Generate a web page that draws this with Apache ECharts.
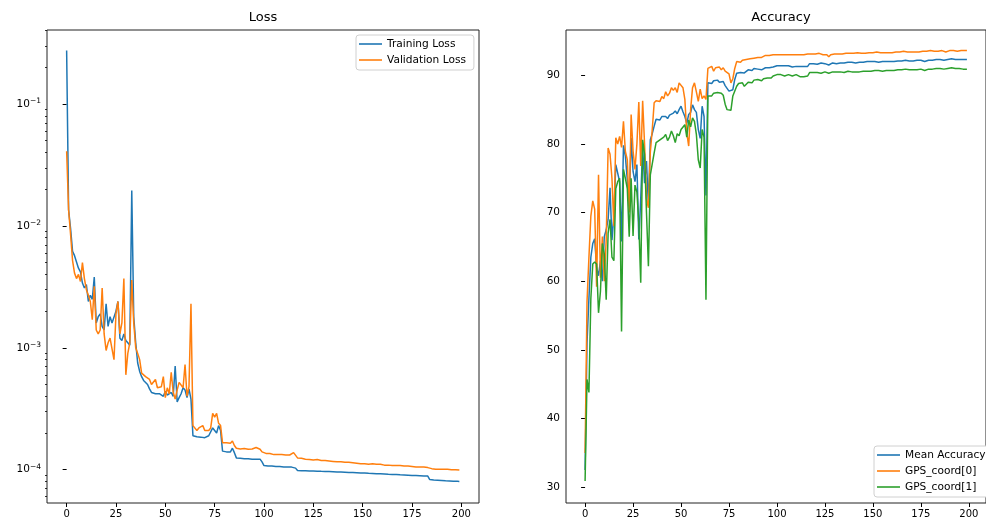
<!DOCTYPE html>
<html>
<head>
<meta charset="utf-8">
<script src="https://cdn.jsdelivr.net/npm/echarts@6/dist/echarts.min.js"></script>
<style>
html, body { margin: 0; padding: 0; background: #fff; }
#chart { width: 986px; height: 520px; }
</style>
</head>
<body>
<div id="chart"></div>
<script>
// values, one entry per epoch (0..199)
var trainLoss = [
  0.275, 0.0135, 0.0095, 0.0062, 0.0057, 0.0056, 0.0045, 0.0042, 0.0034, 0.0031,
  0.0033, 0.0024, 0.0027, 0.0025, 0.0038, 0.0016, 0.0018, 0.0019, 0.0015, 0.0014,
  0.0023, 0.0015, 0.0018, 0.0016, 0.0016, 0.0020, 0.0024, 0.0012, 0.00115, 0.0013,
  0.00115, 0.0011, 0.00105, 0.0195, 0.0018, 0.0011, 0.00075, 0.00064, 0.00058, 0.00054,
  0.00052, 0.00050, 0.00046, 0.00043, 0.00042, 0.00042, 0.00041, 0.00042, 0.00041, 0.00040,
  0.00044, 0.00041, 0.00040, 0.00043, 0.00040, 0.00071, 0.00036, 0.00039, 0.00042, 0.00047,
  0.00045, 0.00039, 0.00046, 0.00038, 0.00019, 0.000185, 0.000186, 0.000184, 0.000185, 0.000188,
  0.000183, 0.000186, 0.00019, 0.00019, 0.00022, 0.00022, 0.00020, 0.00023, 0.00021, 0.000142,
  0.00014, 0.00014, 0.000141, 0.00014, 0.00015, 0.000138, 0.000125, 0.000124, 0.000124, 0.000124,
  0.000123, 0.000123, 0.000123, 0.000123, 0.000122, 0.000122, 0.000122, 0.000123, 0.000122, 0.000116,
  0.000108, 0.000108, 0.000107, 0.000107, 0.000107, 0.000107, 0.000106, 0.000106, 0.000106, 0.000106,
  0.000105, 0.000105, 0.000105, 0.000105, 0.000105, 0.000105, 0.000103, 9.85e-5, 9.82e-5, 9.81e-5,
  9.80e-5, 9.80e-5, 9.78e-5, 9.77e-5, 9.77e-5, 9.75e-5, 9.74e-5, 9.73e-5, 9.72e-5, 9.70e-5,
  9.69e-5, 9.68e-5, 9.66e-5, 9.65e-5, 9.63e-5, 9.62e-5, 9.60e-5, 9.59e-5, 9.57e-5, 9.56e-5,
  9.54e-5, 9.53e-5, 9.51e-5, 9.50e-5, 9.48e-5, 9.47e-5, 9.45e-5, 9.44e-5, 9.42e-5, 9.41e-5,
  9.39e-5, 9.38e-5, 9.36e-5, 9.34e-5, 9.33e-5, 9.31e-5, 9.30e-5, 9.28e-5, 9.26e-5, 9.25e-5,
  9.23e-5, 9.22e-5, 9.20e-5, 9.18e-5, 9.17e-5, 9.15e-5, 9.13e-5, 9.12e-5, 9.10e-5, 9.08e-5,
  9.07e-5, 9.05e-5, 9.03e-5, 9.02e-5, 9.00e-5, 8.98e-5, 8.97e-5, 8.95e-5, 8.93e-5, 8.92e-5,
  8.90e-5, 8.89e-5, 8.87e-5, 8.86e-5, 8.30e-5, 8.25e-5, 8.22e-5, 8.20e-5, 8.18e-5, 8.16e-5,
  8.14e-5, 8.12e-5, 8.10e-5, 8.09e-5, 8.08e-5, 8.06e-5, 8.05e-5, 8.04e-5, 8.02e-5, 8.00e-5
];
var valLoss = [
  0.041, 0.0135, 0.0085, 0.0052, 0.0041, 0.0037, 0.0040, 0.0035, 0.0050, 0.0037,
  0.0030, 0.0027, 0.0024, 0.0017, 0.0032, 0.0014, 0.0013, 0.0014, 0.0031, 0.0013,
  0.00095, 0.0011, 0.0012, 0.0012, 0.0008, 0.0019, 0.0024, 0.0013, 0.0016, 0.0037,
  0.0006, 0.0009, 0.0011, 0.0036, 0.0016, 0.0010, 0.0009, 0.00080, 0.00062, 0.00060,
  0.00058, 0.00056, 0.00055, 0.00050, 0.00050, 0.00055, 0.00047, 0.00046, 0.00048, 0.00058,
  0.00039, 0.00047, 0.00042, 0.00063, 0.00043, 0.00038, 0.00045, 0.00052, 0.00052, 0.00047,
  0.00073, 0.00040, 0.00048, 0.0023, 0.00023, 0.00023, 0.00021, 0.00022, 0.00022, 0.00023,
  0.00021, 0.00021, 0.00021, 0.00022, 0.00029, 0.00027, 0.00029, 0.00024, 0.00023, 0.000166,
  0.000168, 0.000166, 0.000167, 0.000165, 0.000172, 0.000158, 0.000150, 0.000149, 0.000148, 0.000148,
  0.000149, 0.000147, 0.000147, 0.000146, 0.000148, 0.000150, 0.000152, 0.000151, 0.000147, 0.000140,
  0.000137, 0.000136, 0.000135, 0.000136, 0.000134, 0.000133, 0.000134, 0.000133, 0.000132, 0.000133,
  0.000134, 0.000132, 0.000131, 0.000132, 0.000134, 0.000138, 0.000133, 0.000125, 0.000124, 0.000124,
  0.000123, 0.000122, 0.000122, 0.000121, 0.000120, 0.000120, 0.000119, 0.000121, 0.000119, 0.000119,
  0.000121, 0.000119, 0.000118, 0.000118, 0.000117, 0.000117, 0.000116, 0.000116, 0.000115, 0.000116,
  0.000115, 0.000115, 0.000114, 0.000115, 0.000116, 0.000114, 0.000113, 0.000113, 0.000113, 0.000112,
  0.000113, 0.000112, 0.000112, 0.000111, 0.000112, 0.000112, 0.000111, 0.000111, 0.000110, 0.000111,
  0.000110, 0.000109, 0.000110, 0.000109, 0.000109, 0.000108, 0.000109, 0.000108, 0.000107, 0.000108,
  0.000107, 0.000107, 0.000106, 0.000107, 0.000109, 0.000106, 0.000106, 0.000105, 0.000106, 0.000105,
  0.000104, 0.000105, 0.000105, 0.000104, 0.000103, 0.000102, 0.000102, 0.000101, 0.000102, 0.000101,
  0.000101, 0.000101, 0.000100, 0.000101, 0.000100, 0.000100, 0.000100, 0.000100, 0.0000995, 0.0000995
];
var meanAcc = [
  32.5, 51.0, 57.5, 63.5, 65.5, 66.2, 62.0, 60.8, 63.0, 60.0,
  66.5, 67.5, 69.0, 73.6, 66.0, 69.5, 77.0, 77.2, 74.5, 65.8,
  79.8, 78.2, 74.8, 70.9, 80.9, 76.0, 74.5, 77.0, 66.1, 72.0,
  79.5, 74.3, 77.5, 71.0, 80.6, 81.5, 82.6, 83.6, 83.4, 83.5,
  84.0, 83.8, 84.0, 83.7, 84.2, 84.0, 84.5, 84.8, 84.4, 85.0,
  85.5, 84.7, 84.0, 83.0, 84.3, 84.6, 85.7, 85.0, 84.6, 82.1,
  80.8, 85.5, 84.0, 72.5, 88.9, 89.1, 88.8, 89.2, 89.0, 89.3,
  89.0, 89.2, 89.1, 88.5, 88.1, 87.7, 87.6, 87.9, 89.4, 90.3,
  90.5, 90.4, 90.6, 90.35, 90.5, 90.8, 90.9, 90.7, 91.0, 90.9,
  90.9, 91.0, 90.8, 91.0, 91.1, 91.0, 91.1, 91.0, 91.2, 91.3,
  91.4, 91.3, 91.4, 91.3, 91.4, 91.3, 91.4, 91.3, 91.2, 91.4,
  91.3, 91.4, 91.3, 91.2, 91.3, 91.2, 91.3, 91.7, 91.6, 91.7,
  91.7, 91.6, 91.7, 91.8, 91.7, 91.7, 91.8, 91.5, 91.7, 91.8,
  91.8, 91.7, 91.8, 91.8, 91.9, 91.8, 91.8, 91.9, 91.8, 91.9,
  91.9, 91.8, 91.9, 91.9, 92.0, 91.9, 91.9, 92.0, 91.9, 92.0,
  91.9, 92.0, 92.0, 91.9, 92.0, 92.0, 92.1, 92.0, 91.8, 92.0,
  92.1, 92.0, 92.1, 92.1, 92.0, 92.1, 92.1, 92.2, 92.1, 92.1,
  92.2, 92.1, 92.2, 92.2, 92.1, 92.2, 92.2, 92.0, 92.2, 92.2,
  92.3, 92.2, 92.2, 92.3, 92.2, 92.3, 92.3, 92.2, 92.3, 92.3,
  92.3, 92.4, 92.3, 92.3, 92.4, 92.3, 92.3, 92.3, 92.3, 92.3
];
var gps0Acc = [
  35.0, 57.0, 63.5, 69.5, 71.7, 70.5, 59.2, 75.5, 60.5, 66.5,
  60.0, 66.0, 79.4, 78.5, 75.0, 68.0, 80.9, 80.0, 81.1, 79.5,
  83.3, 78.9, 77.7, 70.0, 84.3, 79.0, 76.3, 80.0, 86.1, 76.8,
  86.3, 80.0, 72.0, 70.7, 78.8, 82.1, 86.0, 86.3, 86.5, 86.2,
  86.9, 86.6, 87.6, 87.0, 87.4, 88.2, 87.8, 88.2, 87.5, 88.9,
  88.9, 88.2, 86.5, 81.6, 79.7, 85.0, 88.2, 88.9, 87.6, 86.2,
  88.0, 86.6, 87.0, 86.5, 91.0, 90.8, 91.3, 90.6, 91.1, 90.9,
  91.2, 90.8, 91.1, 90.6, 90.8, 90.2, 88.9, 89.5, 91.0, 92.0,
  92.1, 91.9, 92.2, 92.0, 92.3, 92.5, 92.4, 92.6, 92.5, 92.7,
  92.6, 92.7, 92.6, 92.8, 92.9, 92.8, 92.9, 92.8, 93.0, 92.9,
  93.0, 92.9, 93.0, 92.9, 93.0, 93.1, 93.0, 92.9, 93.0, 93.1,
  93.0, 92.9, 93.0, 93.1, 93.0, 93.0, 93.1, 93.0, 93.1, 93.0,
  93.1, 93.1, 93.2, 93.1, 93.0, 93.1, 93.0, 92.7, 93.0, 93.1,
  93.1, 93.2, 93.1, 93.2, 93.1, 93.2, 93.2, 93.1, 93.2, 93.3,
  93.2, 93.2, 93.3, 93.2, 93.2, 93.3, 93.2, 93.3, 93.3, 93.2,
  93.3, 93.3, 93.4, 93.3, 93.3, 93.4, 93.3, 93.1, 93.3, 93.4,
  93.3, 93.4, 93.4, 93.3, 93.4, 93.4, 93.5, 93.4, 93.4, 93.3,
  93.4, 93.5, 93.4, 93.5, 93.4, 93.5, 93.5, 93.3, 93.5, 93.5,
  93.6, 93.5, 93.5, 93.6, 93.5, 93.6, 93.6, 93.5, 93.4, 93.6,
  93.6, 93.5, 93.6, 93.6, 93.5, 93.6, 93.6, 93.5, 93.6, 93.6
];
var gps1Acc = [
  30.9, 45.7, 43.8, 57.5, 62.5, 62.8, 62.5, 55.4, 58.5, 65.5,
  64.0, 57.3, 67.0, 69.0, 63.5, 63.0, 73.5, 74.5, 75.0, 52.7,
  76.3, 75.0, 73.5, 66.5, 75.0, 66.6, 74.0, 73.0, 68.5, 59.8,
  80.6, 78.5, 70.0, 62.2, 75.5, 75.3, 78.7, 80.2, 80.0, 80.6,
  80.6, 81.0, 81.4, 80.5, 81.0, 81.9, 81.2, 80.2, 81.5, 81.2,
  82.1, 82.0, 82.8, 81.0, 83.5, 82.5, 83.8, 83.3, 81.4, 77.7,
  76.5, 82.1, 81.0, 57.3, 87.0, 87.2, 87.0, 87.4, 87.2, 87.5,
  87.3, 87.4, 87.1, 85.8, 85.0, 85.2, 84.9, 87.0, 86.8, 88.4,
  88.8, 88.6, 88.9, 88.4, 88.6, 89.0, 89.2, 88.9, 89.3, 89.2,
  89.4, 89.3, 89.2, 89.5, 89.7, 89.6, 89.8, 89.6, 89.9, 90.0,
  90.1, 90.0, 90.1, 90.0, 89.9, 90.0, 90.1, 90.0, 89.9, 90.0,
  90.1, 90.0, 89.8, 89.9, 89.8, 89.7, 89.9, 90.4, 90.3, 90.4,
  90.3, 90.4, 90.4, 90.3, 90.4, 90.5, 90.4, 90.3, 90.4, 90.5,
  90.4, 90.5, 90.4, 90.5, 90.5, 90.4, 90.5, 90.6, 90.5, 90.5,
  90.6, 90.5, 90.6, 90.5, 90.6, 90.6, 90.5, 90.6, 90.7, 90.6,
  90.6, 90.7, 90.6, 90.7, 90.7, 90.6, 90.8, 90.7, 90.6, 90.7,
  90.8, 90.7, 90.8, 90.8, 90.7, 90.8, 90.8, 90.9, 90.8, 90.8,
  90.9, 90.8, 90.9, 90.8, 90.9, 90.9, 90.8, 90.7, 90.9, 90.9,
  91.0, 90.9, 90.9, 91.0, 90.9, 91.0, 91.0, 90.9, 91.0, 91.0,
  91.0, 91.1, 91.0, 91.0, 91.0, 91.0, 91.0, 90.9, 90.9, 90.9
];

var xTicks = [0, 25, 50, 75, 100, 125, 150, 175, 200];
var lossTicks = [1e-4, 1e-3, 1e-2, 1e-1];
var lossMinorTicks = [6e-5, 7e-5, 8e-5, 9e-5,
  2e-4, 3e-4, 4e-4, 5e-4, 6e-4, 7e-4, 8e-4, 9e-4,
  2e-3, 3e-3, 4e-3, 5e-3, 6e-3, 7e-3, 8e-3, 9e-3,
  2e-2, 3e-2, 4e-2, 5e-2, 6e-2, 7e-2, 8e-2, 9e-2,
  2e-1, 3e-1, 4e-1];
var accTicks = [30, 40, 50, 60, 70, 80, 90];

var FONT = 'DejaVu Sans';
var BLUE = '#1f77b4', ORANGE = '#ff7f0e', GREEN = '#2ca02c';

function pairs(arr) {
    return arr.map(function (v, i) { return [i, v]; });
}

function xAxisFor(idx) {
    return {
        gridIndex: idx,
        type: 'value',
        min: -9.95,
        max: 208.95,
        axisLine: { show: false },
        splitLine: { show: false },
        axisTick: { length: 4, lineStyle: { color: '#000' }, customValues: xTicks },
        axisLabel: { customValues: xTicks, color: '#000', fontSize: 10, fontFamily: FONT, margin: 6 }
    };
}

function legendFor(names, left, top) {
    return {
        data: names,
        orient: 'vertical',
        left: left,
        top: top,
        icon: 'rect',
        itemWidth: 23,
        itemHeight: 1.6,
        itemGap: 4,
        padding: [3, 8, 4, 3],
        backgroundColor: '#fff',
        borderColor: '#d0d0d0',
        borderWidth: 1,
        borderRadius: 3,
        textStyle: { fontSize: 10.6, color: '#000', fontFamily: FONT, lineHeight: 12 }
    };
}

function lineSeries(name, data, color, xi, yi) {
    return {
        name: name,
        type: 'line',
        xAxisIndex: xi,
        yAxisIndex: yi,
        data: pairs(data),
        showSymbol: false,
        symbol: 'none',
        color: color,
        lineStyle: { width: 1.5, color: color }
    };
}

var myChart = echarts.init(document.getElementById('chart'), null, { renderer: 'canvas' });

var option = {
    animation: false,
    backgroundColor: '#fff',
    title: [
        { text: 'Loss', left: 263, top: 11, textAlign: 'center', padding: 0,
          textStyle: { fontSize: 13, fontWeight: 'normal', color: '#000', fontFamily: FONT } },
        { text: 'Accuracy', left: 781, top: 11, textAlign: 'center', padding: 0,
          textStyle: { fontSize: 13, fontWeight: 'normal', color: '#000', fontFamily: FONT } }
    ],
    legend: [
        legendFor(['Training Loss', 'Validation Loss'], 356, 35),
        legendFor(['Mean Accuracy', 'GPS_coord[0]', 'GPS_coord[1]'], 874, 446)
    ],
    grid: [
        { left: 47, top: 30, right: 507, bottom: 17, show: true, borderColor: '#222', borderWidth: 1 },
        { left: 566, top: 30, right: -11, bottom: 17, show: true, borderColor: '#222', borderWidth: 1 }
    ],
    xAxis: [xAxisFor(0), xAxisFor(1)],
    yAxis: [
        {
            gridIndex: 0,
            type: 'log',
            logBase: 10,
            min: 5.33e-5,
            max: 0.405,
            position: 'left',
            axisLine: { show: false },
            splitLine: { show: false },
            axisTick: { length: 4, lineStyle: { color: '#000' }, customValues: lossTicks },
            axisLabel: {
                customValues: lossTicks,
                margin: 6,
                color: '#000',
                fontSize: 10.5,
                fontFamily: FONT,
                formatter: function (v) {
                    var e = Math.round(Math.log(v) / Math.LN10);
                    return '10{sup|' + (e < 0 ? '\u2212' + (-e) : e) + '}';
                },
                rich: {
                    sup: { fontSize: 7.5, fontFamily: FONT, color: '#000', verticalAlign: 'top', padding: [0, 0, 6, 0] }
                }
            }
        },
        {
            // minor ticks of the log axis
            gridIndex: 0,
            type: 'log',
            logBase: 10,
            min: 5.33e-5,
            max: 0.405,
            position: 'left',
            axisLine: { show: false },
            splitLine: { show: false },
            axisLabel: { show: false },
            axisTick: { length: 2, lineStyle: { color: '#000', width: 0.8 }, customValues: lossMinorTicks }
        },
        {
            gridIndex: 1,
            type: 'value',
            min: 27.7,
            max: 96.6,
            axisLine: { show: false },
            splitLine: { show: false },
            axisTick: { length: 4, lineStyle: { color: '#000' }, customValues: accTicks },
            axisLabel: { customValues: accTicks, color: '#000', fontSize: 10.5, fontFamily: FONT, margin: 6 }
        }
    ],
    series: [
        lineSeries('Training Loss', trainLoss, BLUE, 0, 0),
        lineSeries('Validation Loss', valLoss, ORANGE, 0, 0),
        lineSeries('Mean Accuracy', meanAcc, BLUE, 1, 2),
        lineSeries('GPS_coord[0]', gps0Acc, ORANGE, 1, 2),
        lineSeries('GPS_coord[1]', gps1Acc, GREEN, 1, 2)
    ]
};

myChart.setOption(option);
</script>
</body>
</html>
